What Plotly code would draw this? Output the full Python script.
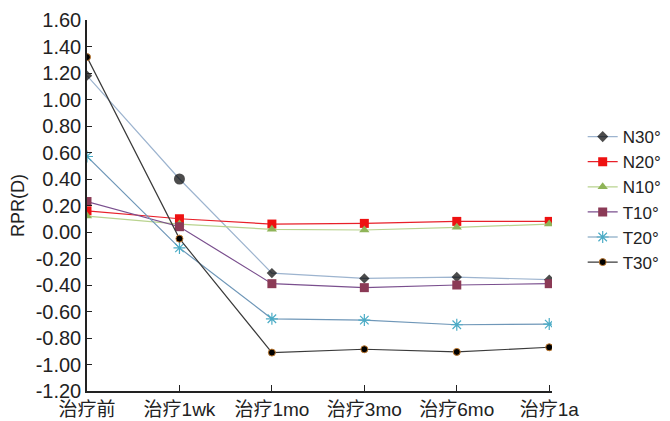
import plotly.graph_objects as go

categories = ["治疗前", "治疗1wk", "治疗1mo", "治疗3mo", "治疗6mo", "治疗1a"]
series_names = ["N30°", "N20°", "N10°", "T10°", "T20°", "T30°"]
N30 = [1.18, 0.40, -0.31, -0.35, -0.34, -0.36]
N20 = [0.16, 0.10, 0.06, 0.065, 0.08, 0.08]
N10 = [0.12, 0.06, 0.02, 0.015, 0.035, 0.06]
T10 = [0.23, 0.04, -0.39, -0.42, -0.40, -0.39]
T20 = [0.57, -0.12, -0.655, -0.665, -0.70, -0.695]
T30 = [1.32, -0.05, -0.91, -0.885, -0.905, -0.87]
y_ticks = [1.6, 1.4, 1.2, 1.0, 0.8, 0.6, 0.4, 0.2, 0.0, -0.2, -0.4, -0.6, -0.8, -1.0, -1.2]

styles = [
    dict(line="#9db4cf", marker=dict(symbol=["diamond", "circle", "diamond", "diamond", "diamond", "diamond"],
                                     size=[8, 11, 8, 8, 8, 8], color="#000000",
                                     line=dict(width=0))),
    dict(line="#e8202a", marker=dict(symbol="square", size=9, color="#ee1111", line=dict(width=0))),
    dict(line="#b9d38f", marker=dict(symbol="triangle-up", size=9, color="#8fb458", line=dict(width=0))),
    dict(line="#7a4f8e", marker=dict(symbol="square", size=9, color="#8b3a56", line=dict(width=0))),
    dict(line="#6f97b8", marker=dict(symbol="asterisk-open", size=10, color="#4bacc6",
                                     line=dict(color="#4bacc6", width=1.2))),
    dict(line="#3a3a3a", marker=dict(symbol="circle", size=7, color="#000000",
                                     line=dict(color="#c07a30", width=1))),
]

fig = go.Figure()
for name, vals, st in zip(series_names, [N30, N20, N10, T10, T20, T30], styles):
    fig.add_trace(go.Scatter(
        x=list(range(len(categories))), y=vals, name=name, mode="lines+markers",
        line=dict(color=st["line"], width=1.2), marker=st["marker"],
    ))

font_family = "Liberation Sans, Arial, Noto Sans CJK SC, sans-serif"
fig.update_layout(
    width=670, height=421,
    margin=dict(l=79, r=121, t=12, b=38),
    paper_bgcolor="white", plot_bgcolor="white",
    font=dict(family=font_family, size=18, color="#222222"),
    xaxis=dict(range=[0, 5.03], tickmode="array", tickvals=list(range(len(categories))),
               ticktext=categories, showgrid=False, zeroline=False, automargin=False,
               showline=True, linecolor="#222222", linewidth=1.5,
               ticks="inside", ticklen=6, tickcolor="#222222",
               tickfont=dict(size=19, family="Liberation Sans, Noto Sans CJK SC, sans-serif")),
    yaxis=dict(range=[-1.2, 1.6], tickmode="array", tickvals=y_ticks, automargin=False,
               ticktext=[f"{v:.2f}" for v in y_ticks], showgrid=False, zeroline=False,
               showline=True, linecolor="#222222", linewidth=1.5,
               ticks="inside", ticklen=5, tickcolor="#222222",
               title=dict(text="RPR(D)", font=dict(size=18), standoff=6),
               tickfont=dict(size=20)),
    legend=dict(x=1.066, xanchor="left", y=0.733, yanchor="top",
                font=dict(size=17), tracegroupgap=0, itemwidth=30,
                bgcolor="rgba(0,0,0,0)"),
    showlegend=True,
)

fig.write_html("out.html")
